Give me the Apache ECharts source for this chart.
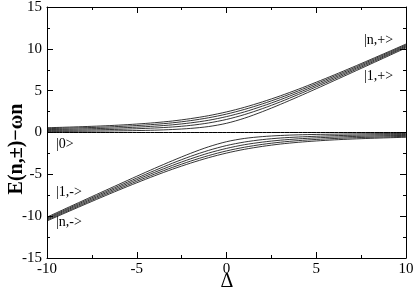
<!DOCTYPE html>
<html><head><meta charset="utf-8">
<script src="https://cdn.jsdelivr.net/npm/echarts@6/dist/echarts.min.js"></script>
<style>html,body{margin:0;padding:0;background:#fff}#c{width:415px;height:293px}</style>
</head><body><div id="c"></div>
<script>
// Detuning values (x)
const delta = [-10,-9,-8,-7,-6,-5,-4,-3,-2,-1,0,1,2,3,4,5,6,7,8,9,10];
// Upper branches |k,+>, k = 1..5
const up1 = [0.12,0.13,0.15,0.17,0.20,0.23,0.28,0.36,0.49,0.71,1.10,1.71,2.49,3.36,4.28,5.23,6.20,7.17,8.15,9.13,10.12];
const up2 = [0.24,0.26,0.29,0.33,0.38,0.45,0.54,0.66,0.85,1.14,1.56,2.14,2.85,3.66,4.54,5.45,6.38,7.33,8.29,9.26,10.24];
const up3 = [0.35,0.38,0.43,0.48,0.55,0.64,0.76,0.92,1.15,1.46,1.90,2.46,3.15,3.92,4.76,5.64,6.55,7.48,8.43,9.38,10.35];
const up4 = [0.46,0.51,0.57,0.63,0.72,0.83,0.97,1.16,1.42,1.76,2.20,2.76,3.42,4.16,4.97,5.83,6.72,7.63,8.57,9.51,10.46];
const up5 = [0.57,0.63,0.70,0.78,0.88,1.01,1.17,1.38,1.66,2.01,2.46,3.01,3.66,4.38,5.17,6.01,6.88,7.78,8.70,9.63,10.57];
// Lower branches |k,->
const lo1 = [-10.12,-9.13,-8.15,-7.17,-6.20,-5.23,-4.28,-3.36,-2.49,-1.71,-1.10,-0.71,-0.49,-0.36,-0.28,-0.23,-0.20,-0.17,-0.15,-0.13,-0.12];
const lo2 = [-10.24,-9.26,-8.29,-7.33,-6.38,-5.45,-4.54,-3.66,-2.85,-2.14,-1.56,-1.14,-0.85,-0.66,-0.54,-0.45,-0.38,-0.33,-0.29,-0.26,-0.24];
const lo3 = [-10.35,-9.38,-8.43,-7.48,-6.55,-5.64,-4.76,-3.92,-3.15,-2.46,-1.90,-1.46,-1.15,-0.92,-0.76,-0.64,-0.55,-0.48,-0.43,-0.38,-0.35];
const lo4 = [-10.46,-9.51,-8.57,-7.63,-6.72,-5.83,-4.97,-4.16,-3.42,-2.76,-2.20,-1.76,-1.42,-1.16,-0.97,-0.83,-0.72,-0.63,-0.57,-0.51,-0.46];
const lo5 = [-10.57,-9.63,-8.70,-7.78,-6.88,-6.01,-5.17,-4.38,-3.66,-3.01,-2.46,-2.01,-1.66,-1.38,-1.17,-1.01,-0.88,-0.78,-0.70,-0.63,-0.57];
// Ground state |0>
const ground = [0,0,0,0,0,0,0,0,0,0,0,0,0,0,0,0,0,0,0,0,0];
const xTicks = [-10,-5,0,5,10];
const yTicks = [-15,-10,-5,0,5,10,15];

const font = '"Liberation Serif","DejaVu Serif",serif';
function mk(arr, w){
  return {type:'line', data: delta.map((d,i)=>[d,arr[i]]), showSymbol:false, smooth:0.3,
    lineStyle:{color:'#000', width:w}, silent:true, animation:false};
}
const series = [up1,up2,up3,up4,up5,lo1,lo2,lo3,lo4,lo5].map(a=>mk(a,0.8));
series.push(mk(ground,1));

const axBase = {min:-10,max:10,interval:5,
  axisLine:{onZero:false,lineStyle:{color:'#000',width:1}},
  axisTick:{inside:true,length:6,lineStyle:{color:'#000'}},
  minorTick:{show:true,splitNumber:2,length:3,lineStyle:{color:'#000'}},
  splitLine:{show:false}};
const ayBase = {min:-15,max:15,interval:5,
  axisLine:{onZero:false,lineStyle:{color:'#000',width:1}},
  axisTick:{inside:true,length:6,lineStyle:{color:'#000'}},
  minorTick:{show:true,splitNumber:2,length:3,lineStyle:{color:'#000'}},
  splitLine:{show:false}};

const chart = echarts.init(document.getElementById('c'), null, {renderer:'canvas'});
chart.setOption({
  animation:false,
  grid:{left:47,right:9,top:7,bottom:35,containLabel:false,outerBoundsMode:'none'},
  xAxis:[
    Object.assign({type:'value',position:'bottom',
      axisLabel:{color:'#000',fontFamily:font,fontSize:15,margin:4,
        formatter:v=>xTicks.includes(v)?String(v):''}},axBase),
    Object.assign({type:'value',position:'top',axisLabel:{show:false}},axBase)
  ],
  yAxis:[
    Object.assign({type:'value',position:'left',
      axisLabel:{color:'#000',fontFamily:font,fontSize:15,margin:5,
        formatter:v=>yTicks.includes(v)?String(v):''}},ayBase),
    Object.assign({type:'value',position:'right',axisLabel:{show:false}},ayBase)
  ],
  series: series,
  graphic:[
    {type:'text',x:17,y:149,rotation:Math.PI/2,
      style:{text:'E(n,±)−ωn',font:'bold 20px '+font,fill:'#000',align:'center',verticalAlign:'middle'}},
    {type:'text',x:227,y:282,
      style:{text:'Δ',font:'20px '+font,fill:'#000',align:'center',verticalAlign:'middle'}},
    {type:'text',left:364,top:33,style:{text:'|n,+>',font:'14px '+font,fill:'#000'}},
    {type:'text',left:364,top:69,style:{text:'|1,+>',font:'14px '+font,fill:'#000'}},
    {type:'text',left:56,top:137,style:{text:'|0>',font:'14px '+font,fill:'#000'}},
    {type:'text',left:56,top:185,style:{text:'|1,->',font:'14px '+font,fill:'#000'}},
    {type:'text',left:56,top:215,style:{text:'|n,->',font:'14px '+font,fill:'#000'}}
  ]
});
</script></body></html>
